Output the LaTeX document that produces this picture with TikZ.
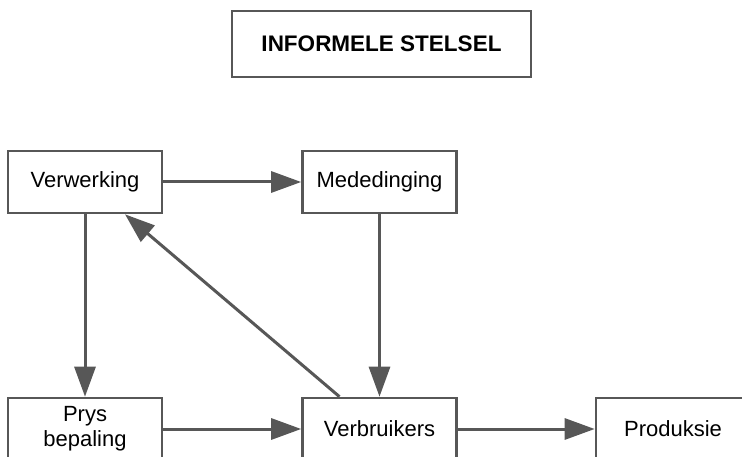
\documentclass[tikz,border=0pt]{standalone}
\usepackage{fontspec}
\setmainfont{Liberation Sans}
\usetikzlibrary{arrows.meta}
\definecolor{lyngrys}{HTML}{575757}
\tikzset{blok/.style={draw=lyngrys,rectangle,line width=2.6pt,minimum width=154pt,minimum height=62pt,inner sep=0pt,font=\fontsize{22}{25}\selectfont}}

\begin{document}
\begin{tikzpicture}[x=1pt,y=-1pt,->,>={Triangle[length=30pt,width=21pt]},line width=3pt,draw=lyngrys]
		\useasboundingbox (0,0) rectangle (742,457);
		\node[blok,minimum width=299pt,minimum height=66pt,font=\fontsize{22.5}{25}\selectfont\bfseries] (titel) at (381.5,44) {INFORMELE STELSEL};
		\node[blok] (verw) at (85,182) {Verwerking};
		\node[blok] (med) at (379.5,182) {Mededinging};
		\node[blok,align=center] (prys) at (85,429) {Prys\\bepaling};
		\node[blok] (verb) at (379.5,429) {Verbruikers};
		\node[blok] (prod) at (673,429) {Produksie};
		
		\draw (verw) -- (med);
		\draw (verw) -- (prys);
		\draw (med) -- (verb);
		\draw ([xshift=-40pt]verb.north) -- ([xshift=40pt]verw.south);
		
		\draw (prys) -- (verb);
		\draw (verb) -- (prod);
\end{tikzpicture}
\end{document}
